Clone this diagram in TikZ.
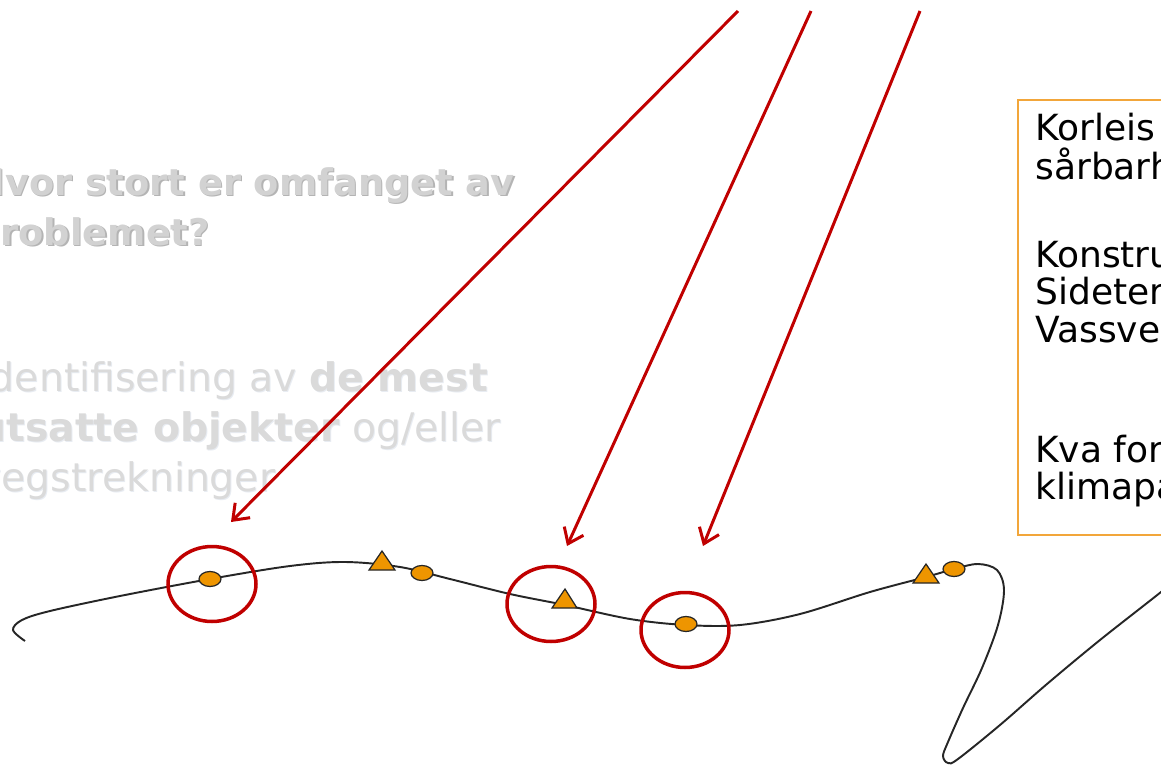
\documentclass[tikz,border=0pt]{standalone}
\usepackage{fontspec}
\setmainfont{DejaVu Sans}
\usetikzlibrary{arrows.meta,shapes.geometric}
\definecolor{redline}{HTML}{C00000}
\definecolor{markfill}{HTML}{EE9500}
\definecolor{boxorange}{HTML}{F2A63A}
\definecolor{titlegray}{HTML}{D2D2D2}
\definecolor{shadowgray}{HTML}{B4B4B4}
\definecolor{paragray}{HTML}{DADADA}
\definecolor{parashadow}{HTML}{E8ECF2}
\definecolor{roadline}{HTML}{262626}
\begin{document}
\begin{tikzpicture}[x=0.02cm,y=-0.02cm,
  titletext/.style={anchor=base west,inner sep=0pt,text=titlegray,font=\fontsize{20.9}{24}\selectfont\bfseries},
  titleshadow/.style={anchor=base west,inner sep=0pt,text=shadowgray,font=\fontsize{20.9}{24}\selectfont\bfseries},
  paratext/.style={anchor=base west,inner sep=0pt,text=paragray,font=\fontsize{22.4}{26}\selectfont},
  parashad/.style={anchor=base west,inner sep=0pt,text=parashadow,font=\fontsize{22.4}{26}\selectfont},
  boxtext/.style={anchor=base west,inner sep=0pt,text=black,font=\fontsize{20.5}{24}\selectfont},
  markell/.style={ellipse,draw=roadline,fill=markfill,line width=0.7pt,inner sep=0pt,minimum width=0.44cm,minimum height=0.3cm},
  marktri/.style={draw=roadline,fill=markfill,line width=0.7pt,line join=miter},
  redring/.style={ellipse,draw=redline,line width=2pt,inner sep=0pt,minimum width=1.76cm,minimum height=1.5cm},
  redarrow/.style={draw=redline,line width=1.7pt,-{Straight Barb[length=8pt,width=12pt]}},
  road/.style={draw=roadline,line width=1.1pt}
]
\useasboundingbox (0,0) rectangle (1161,765);
\clip (0,0) rectangle (1161,765);

% title with shadow
\node[titleshadow] (h1s) at (-24.5,196.5) {Hvor stort er omfanget av};
\node[titletext] (h1) at (-26,195) {Hvor stort er omfanget av};
\node[titleshadow] (h2s) at (-24.5,246.5) {problemet?};
\node[titletext] (h2) at (-26,245) {problemet?};

% paragraph
\node[parashad] (p1s) at (-21,392) {Identifisering av \textbf{de mest}};
\node[paratext] (p1) at (-22,391) {Identifisering av \textbf{de mest}};
\node[parashad] (p2s) at (-21,442) {\textbf{utsatte objekter} og/eller};
\node[paratext] (p2) at (-22,441) {\textbf{utsatte objekter} og/eller};
\node[parashad] (p3s) at (-21,492) {vegstrekninger};
\node[paratext] (p3) at (-22,491) {vegstrekninger};

% box on the right
\draw[boxorange,line width=1pt] (1018,100) rectangle (1200,535);
\node[boxtext] (k1) at (1035,140) {Korleis};
\node[boxtext] (k2) at (1035,179) {sårbarh};
\node[boxtext] (k3) at (1035,267) {Konstru};
\node[boxtext] (k4) at (1035,304) {Sideter};
\node[boxtext] (k5) at (1035,342) {Vassve};
\node[boxtext] (k6) at (1035,462) {Kva for};
\node[boxtext] (k7) at (1035,499) {klimapa};

% road curve
\draw[road] plot[smooth,tension=0.55] coordinates {
 (25,641) (13,630) (22,620) (50,611) (120,596) (210,579) (290,566) (345,562)
 (400,567) (450,579) (510,594) (565,605) (630,619) (686,625) (740,625)
 (800,614) (870,592) (926,577) (954,569) (978,564) (997,570) (1004,590)
 (998,625) (982,668) (963,708) (948,742) (943,756) (948,763) (958,759)
 (1000,725) (1047,684) (1100,640) (1161,592) (1200,560)};

% markers
\node[markell] (m1) at (210,579) {};
\node[markell] (m2) at (422,573) {};
\node[markell] (m3) at (686,624) {};
\node[markell] (m4) at (954,569) {};
\filldraw[marktri] (382,551) -- (395,570) -- (369,570) -- cycle;
\filldraw[marktri] (565,589) -- (577,608) -- (552,608) -- cycle;
\filldraw[marktri] (926,564) -- (939,583) -- (913,583) -- cycle;

% red rings
\node[redring] (c1) at (212,584) {};
\node[redring] (c2) at (551,604) {};
\node[redring] (c3) at (685,630) {};

% arrows
\coordinate (s1) at (738,11);
\coordinate (e1) at (231,522);
\coordinate (s2) at (811,11);
\coordinate (e2) at (567,546);
\coordinate (s3) at (920,11);
\coordinate (e3) at (703,546);
\draw[redarrow] (s1) -- (e1);
\draw[redarrow] (s2) -- (e2);
\draw[redarrow] (s3) -- (e3);
\end{tikzpicture}
\end{document}
